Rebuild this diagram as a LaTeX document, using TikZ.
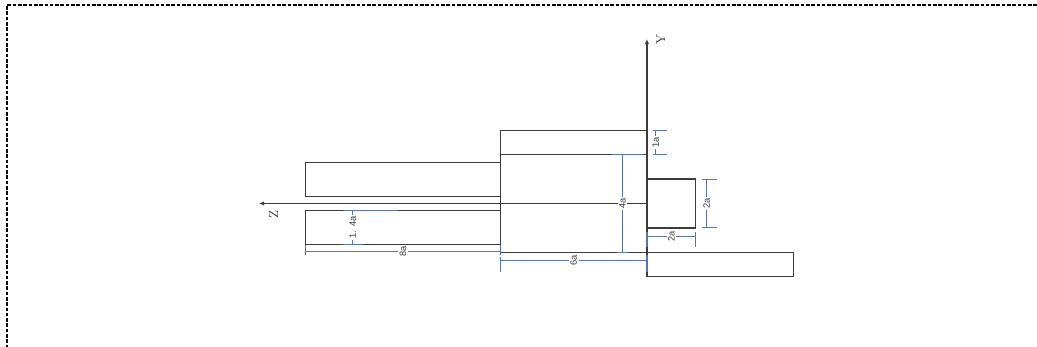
\documentclass[tikz,border=0pt]{standalone}
\usepackage{fontspec}
\setsansfont{Liberation Sans}
\usepackage{tikz}
\usetikzlibrary{
  arrows,
  arrows.meta,
  positioning
}
\definecolor{dimblue}{RGB}{88,118,170}
\definecolor{partgray}{RGB}{60,60,60}

\begin{document}
\begin{tikzpicture}[x=0.6cm,y=0.6cm,
  part/.style={draw=partgray,line width=0.9pt},
  dimline/.style={draw=dimblue,line width=0.8pt},
  dimlabel/.style={rectangle,fill=white,inner sep=1pt,rotate=90,text=partgray,font=\sffamily\fontsize{6.5}{7}\selectfont},
  axislabel/.style={rectangle,inner sep=0pt,rotate=90,text=partgray,font=\fontsize{9}{10}\selectfont}]
  \useasboundingbox (-26.516,-5.881) rectangle (15.984,8.340);
  % frame
  \draw[dashed,line width=1.1pt,dash pattern=on 2.5pt off 1.2pt] (15.984,8.135) -- (-26.23,8.135) -- (-26.23,-5.881);

  % parts
  \draw[part] (-6,-2) rectangle (0,3);
  \draw[part] (-6,2) -- (0,2);
  \draw[part] (-14,0.28) rectangle (-6,1.68);
  \draw[part] (-14,-0.28) rectangle (-6,-1.68);
  \draw[part] (0,-1) rectangle (2,1);
  \draw[part] (0,-2) rectangle (6,-3);

  % axes
  \coordinate (O) at (0,0);
  \coordinate (ybot) at (0,-3);
  \coordinate (ytip) at (0,6.74);
  \coordinate (ztip) at (-15.9,0);
  \draw[part,-{Latex[length=3.5pt,width=3pt]}] (ybot) -- (ytip);
  \draw[part,-{Latex[length=3.5pt,width=3pt]}] (O) -- (ztip);
  \node[axislabel] (ylab) at (0.56,6.73) {Y};
  \node[axislabel] (zlab) at (-15.3,-0.45) {Z};

  % dimensions
  \draw[dimline] (0.36,2) -- (0.36,3);
  \draw[dimline] (0.23,3) -- (0.8,3);
  \draw[dimline] (0.23,2) -- (0.8,2);
  \node[dimlabel] (d1a) at (0.36,2.5) {1a};

  \draw[dimline] (-1,-2) -- (-1,2);
  \draw[dimline] (-1.44,2) -- (-0.15,2);
  \draw[dimline] (-1.24,-2) -- (-0.77,-2);
  \node[dimlabel] (d4a) at (-1,0) {4a};

  \draw[dimline] (2.45,-1) -- (2.45,1);
  \draw[dimline] (2.25,1) -- (2.88,1);
  \draw[dimline] (2.25,-1) -- (2.88,-1);
  \node[dimlabel] (d2av) at (2.45,0) {2a};

  \draw[dimline] (0,-1.36) -- (2,-1.36);
  \draw[dimline] (0,-1.16) -- (0,-1.77);
  \draw[dimline] (2,-1.16) -- (2,-1.77);
  \node[dimlabel] (d2ah) at (1,-1.36) {2a};

  \draw[dimline] (-6,-2.34) -- (0,-2.34);
  \draw[dimline] (-6,-2.18) -- (-6,-2.8);
  \draw[dimline] (0,-2.1) -- (0,-2.8);
  \node[dimlabel] (d6a) at (-3,-2.34) {6a};

  \draw[dimline] (-14,-1.97) -- (-6,-1.97);
  \draw[dimline] (-14,-1.7) -- (-14,-2.1);
  \draw[dimline] (-6,-1.7) -- (-6,-2.1);
  \node[dimlabel] (d8a) at (-10,-1.97) {8a};

  \draw[dimline] (-12.06,-0.28) -- (-12.06,-1.68);
  \draw[dimline] (-12.47,-0.28) -- (-10.2,-0.28);
  \draw[dimline] (-12.47,-1.68) -- (-11.65,-1.68);
  \node[dimlabel] (d14a) at (-12.06,-0.98) {1. 4a};
\end{tikzpicture}
\end{document}
